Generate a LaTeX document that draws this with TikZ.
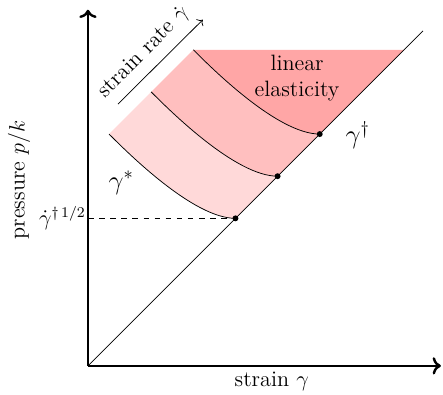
\documentclass[tikz,border=0pt]{standalone}
\usepackage{amsmath}
\usepackage{tikz}
\usetikzlibrary{arrows.meta, positioning, calc}
\definecolor{zoneone}{HTML}{FFD9D9}
\definecolor{zonetwo}{HTML}{FFBFBF}
\definecolor{zonethree}{HTML}{FFA6A6}

\begin{document}
\begin{tikzpicture}[
        axis/.style={->, line width=1.3pt},
        dot/.style={circle, fill=black, inner sep=0pt, minimum size=3.2pt},
        txt/.style={font=\large},
        sym/.style={font=\Large}
    ]
        \useasboundingbox (-1.67,-0.55) rectangle (6.74,6.945);

        % corners of the three bands
        \coordinate (O) at (0,0);
        \coordinate (s1) at (0.4,4.4);
        \coordinate (s2) at (1.2,5.2);
        \coordinate (s3) at (2.0,6.0);
        \coordinate (top) at (6.0,6.0);

        % shaded bands
        \fill[zoneone] (s1) .. controls +(0.354,-0.354) and +(-0.8,0) .. (2.8,2.8)
            -- (3.6,3.6) .. controls +(-0.8,0) and +(0.354,-0.354) .. (s2) -- cycle;
        \fill[zonetwo] (s2) .. controls +(0.354,-0.354) and +(-0.8,0) .. (3.6,3.6)
            -- (4.4,4.4) .. controls +(-0.8,0) and +(0.354,-0.354) .. (s3) -- cycle;
        \fill[zonethree] (s3) .. controls +(0.354,-0.354) and +(-0.8,0) .. (4.4,4.4)
            -- (top) -- cycle;

        \node (d1) [dot] at (2.8,2.8) {};
        \node (d2) [dot] at (3.6,3.6) {};
        \node (d3) [dot] at (4.4,4.4) {};

        % curves
        \draw (s1) .. controls +(0.354,-0.354) and +(-0.8,0) .. (d1.center);
        \draw (s2) .. controls +(0.354,-0.354) and +(-0.8,0) .. (d2.center);
        \draw (s3) .. controls +(0.354,-0.354) and +(-0.8,0) .. (d3.center);

        % diagonal and dashed level
        \coordinate (diagend) at (6.36,6.36);
        \draw (O) -- (diagend);
        \coordinate (ylev) at (0,2.8);
        \draw[dashed] (ylev) -- (d1);

        % axes
        \coordinate (xend) at (6.70,0);
        \coordinate (yend) at (0,6.76);
        \draw[axis] (O) -- (xend);
        \draw[axis] (O) -- (yend);

        % strain rate arrow
        \coordinate (r0) at (0.57,4.97);
        \coordinate (r1) at (2.18,6.57);
        \draw[->] (r0) -- (r1);
        \node (rate) [txt, rotate=45] at (1.06,5.95) {strain rate $\dot{\gamma}$};

        % labels
        \node (xlab) [txt] at (3.49,-0.30) {strain $\gamma$};
        \node (ylab) [txt, rotate=90] at (-1.31,3.53) {pressure $p/k$};
        \node (ylevlab) [txt, left, inner sep=1pt] at (ylev) {$\dot{\gamma}^{\dagger\,1/2}$};
        \node (elast) [txt, align=center] at (3.97,5.46) {linear\\elasticity};
        \node (gdag) [sym] at (5.12,4.38) {$\gamma^{\dagger}$};
        \node (gstar) [sym] at (0.63,3.47) {$\gamma^{*}$};
    \end{tikzpicture}
\end{document}
